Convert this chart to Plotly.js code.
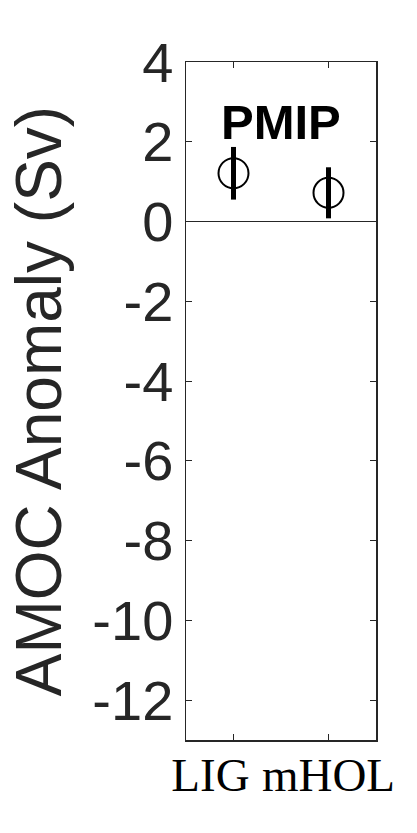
<!DOCTYPE html>
<html>
<head>
<meta charset="utf-8">
<script src="https://cdn.plot.ly/plotly-3.0.1.min.js"></script>
<style>html,body{margin:0;padding:0;background:#fff;}</style>
</head>
<body>
<div id="chart" style="width:417px;height:833px;"></div>
<script>
// Data
const periods = ["LIG", "mHOL"];
const periodPos = [1, 2];
const amocAnomaly = [1.21, 0.72];
const amocSpread = [0.66, 0.64];
const yTicks = [-12, -10, -8, -6, -4, -2, 0, 2, 4];
const yTickLabels = ["-12", "-10", "-8", "-6", "-4", "-2", "0", "2", "4"];
const groupLabel = "PMIP";

const serifFont = {family: "Liberation Serif, Times New Roman, serif", size: 47, color: "#000"};

const traces = periods.map((p, i) => ({
  x: [periodPos[i]],
  y: [amocAnomaly[i]],
  xaxis: i === 0 ? "x" : "x2",
  type: "scatter",
  mode: "markers",
  name: p,
  marker: {symbol: "circle-open", size: 30, color: "#000", line: {width: 2, color: "#000"}},
  error_y: {type: "data", array: [amocSpread[i]], visible: true, thickness: 5, width: 0, color: "#000"},
  hoverinfo: "none",
  showlegend: false
}));

const layout = {
  width: 417,
  height: 833,
  margin: {l: 186, r: 41, t: 62, b: 93},
  paper_bgcolor: "#fff",
  plot_bgcolor: "#fff",
  showlegend: false,
  xaxis: {
    range: [0.5, 2.5],
    tickvals: periodPos,
    ticktext: [periods[0], ""],
    ticklabelshift: -23,
    ticklabelstandoff: -7,
    tickangle: 0,
    ticks: "inside",
    ticklen: 6,
    tickwidth: 1,
    tickcolor: "#262626",
    showline: true,
    linecolor: "#262626",
    linewidth: 1.5,
    mirror: "ticks",
    showgrid: false,
    zeroline: false,
    tickfont: serifFont,
    automargin: false
  },
  xaxis2: {
    overlaying: "x",
    anchor: "y",
    side: "bottom",
    range: [0.5, 2.5],
    tickvals: [periodPos[1]],
    ticktext: [periods[1]],
    ticklabelstandoff: -7,
    tickangle: 0,
    ticks: "inside",
    ticklen: 6,
    tickwidth: 1,
    tickcolor: "#262626",
    showline: true,
    linecolor: "#262626",
    linewidth: 1.5,
    showgrid: false,
    zeroline: false,
    tickfont: serifFont,
    automargin: false
  },
  yaxis: {
    range: [-13, 4],
    tickvals: yTicks,
    ticktext: yTickLabels,
    ticks: "inside",
    ticklen: 6,
    tickwidth: 1,
    tickcolor: "#262626",
    showline: true,
    linecolor: "#262626",
    linewidth: 1.5,
    mirror: "ticks",
    showgrid: false,
    zeroline: true,
    zerolinecolor: "#262626",
    zerolinewidth: 1,
    tickfont: {family: "Liberation Sans, Arial, Helvetica, sans-serif", size: 56, color: "#262626"},
    title: {text: "AMOC Anomaly (Sv)", font: {family: "Liberation Sans, Arial, Helvetica, sans-serif", size: 64, color: "#262626"}, standoff: 10},
    automargin: false
  },
  annotations: [{
    text: "<b>" + groupLabel + "</b>",
    xref: "paper", yref: "y",
    x: 0.5, y: 2.5,
    xanchor: "center", yanchor: "middle",
    showarrow: false,
    font: {family: "Liberation Sans, Arial, Helvetica, sans-serif", size: 49, color: "#000"}
  }]
};

Plotly.newPlot("chart", traces, layout, {displayModeBar: false, staticPlot: true});
</script>
</body>
</html>
